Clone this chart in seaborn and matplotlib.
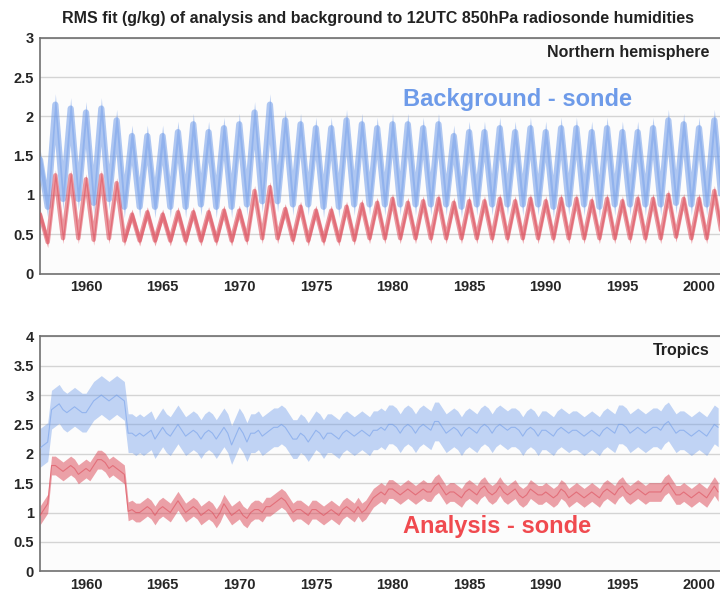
import numpy as np
import matplotlib
matplotlib.use("Agg")
import matplotlib.pyplot as plt
from matplotlib.ticker import MultipleLocator, FuncFormatter
import seaborn as sns

# ---- Northern hemisphere: winter (1 Jan) and summer (1 Jul) values, 1957-2001
nh_years = list(range(1957, 2002))
nh_bg_winter = [1.45, 2.15, 2.1, 2.05, 2.1, 1.95, 1.75, 1.75, 1.75, 1.8,
                1.9, 1.8, 1.85, 1.9, 2.05, 2.15, 1.95, 1.9, 1.85, 1.85,
                1.95, 1.9, 1.85, 1.9, 1.9, 1.85, 1.9, 1.75, 1.8, 1.8,
                1.85, 1.8, 1.85, 1.8, 1.85, 1.85, 1.8, 1.85, 1.8, 1.8,
                1.85, 1.95, 1.9, 1.85, 1.95]
nh_bg_summer = [0.85, 0.95, 0.95, 0.9, 0.95, 0.85, 0.85, 0.85, 0.85, 0.85,
                0.88, 0.85, 0.85, 0.88, 0.92, 0.92, 0.88, 0.88, 0.85, 0.85,
                0.88, 0.88, 0.88, 0.88, 0.88, 0.88, 0.88, 0.85, 0.88, 0.88,
                0.88, 0.88, 0.88, 0.85, 0.88, 0.88, 0.85, 0.88, 0.88, 0.88,
                0.88, 0.9, 0.88, 0.88, 0.88]
nh_an_winter = [0.75, 1.25, 1.25, 1.2, 1.25, 1.15, 0.75, 0.78, 0.75, 0.78,
                0.78, 0.78, 0.8, 0.8, 1.05, 1.1, 0.82, 0.85, 0.8, 0.8,
                0.85, 0.88, 0.9, 0.95, 0.9, 0.92, 0.95, 0.9, 0.92, 0.92,
                0.95, 0.92, 0.95, 0.92, 0.95, 0.95, 0.92, 0.95, 0.92, 0.95,
                0.95, 1.0, 0.95, 0.95, 1.05]
nh_an_summer = [0.4, 0.45, 0.45, 0.43, 0.45, 0.42, 0.42, 0.42, 0.42, 0.42,
                0.42, 0.42, 0.42, 0.43, 0.45, 0.45, 0.43, 0.42, 0.42, 0.42,
                0.43, 0.45, 0.45, 0.45, 0.45, 0.45, 0.45, 0.45, 0.45, 0.45,
                0.45, 0.45, 0.45, 0.45, 0.45, 0.45, 0.45, 0.45, 0.45, 0.45,
                0.45, 0.47, 0.45, 0.45, 0.48]
nh_bg_spread = 0.14
nh_an_spread = 0.07

# ---- Tropics: quarterly values (Jan, Apr, Jul, Oct), 1957-2001 Q2
tr_bg = [2.1, 2.15, 2.2, 2.75,   2.8, 2.85, 2.75, 2.7,    2.75, 2.8, 2.75, 2.7,
         2.7, 2.8, 2.9, 2.95,    3.0, 2.95, 2.9, 2.95,    3.0, 2.95, 2.9, 2.35,
         2.35, 2.3, 2.35, 2.3,   2.35, 2.4, 2.25, 2.35,   2.45, 2.35, 2.3, 2.4,
         2.5, 2.4, 2.3, 2.35,    2.4, 2.35, 2.25, 2.35,   2.4, 2.35, 2.25, 2.35,
         2.45, 2.35, 2.15, 2.3,  2.45, 2.35, 2.2, 2.35,   2.35, 2.4, 2.3, 2.35,
         2.4, 2.45, 2.45, 2.5,   2.45, 2.35, 2.25, 2.25,  2.35, 2.3, 2.2, 2.3,
         2.4, 2.35, 2.25, 2.35,  2.35, 2.3, 2.25, 2.35,   2.4, 2.35, 2.3, 2.35,
         2.4, 2.35, 2.3, 2.4,    2.4, 2.45, 2.4, 2.5,     2.5, 2.45, 2.35, 2.45,
         2.5, 2.45, 2.35, 2.45,  2.5, 2.45, 2.4, 2.55,    2.55, 2.45, 2.35, 2.4,
         2.45, 2.4, 2.3, 2.4,    2.45, 2.4, 2.35, 2.45,   2.5, 2.45, 2.35, 2.45,
         2.5, 2.45, 2.4, 2.45,   2.45, 2.4, 2.3, 2.4,     2.45, 2.4, 2.3, 2.4,
         2.4, 2.35, 2.3, 2.4,    2.45, 2.4, 2.35, 2.4,    2.4, 2.35, 2.3, 2.35,
         2.4, 2.35, 2.3, 2.4,    2.45, 2.4, 2.35, 2.5,    2.5, 2.45, 2.35, 2.4,
         2.45, 2.4, 2.35, 2.4,   2.45, 2.45, 2.4, 2.5,    2.55, 2.45, 2.35, 2.4,
         2.4, 2.35, 2.3, 2.35,   2.4, 2.35, 2.3, 2.4,     2.5, 2.45]
tr_an = [0.95, 1.05, 1.15, 1.8,  1.8, 1.75, 1.7, 1.75,    1.8, 1.75, 1.65, 1.7,
         1.75, 1.7, 1.8, 1.9,    1.9, 1.85, 1.75, 1.8,    1.75, 1.7, 1.65, 1.02,
         1.05, 1.0, 1.0, 1.05,   1.1, 1.05, 0.95, 1.05,   1.1, 1.05, 1.0, 1.1,
         1.2, 1.1, 1.0, 1.05,    1.1, 1.05, 0.95, 1.0,    1.05, 1.0, 0.9, 1.0,
         1.15, 1.05, 0.95, 1.0,  1.05, 0.95, 0.9, 1.0,    1.05, 1.05, 1.0, 1.1,
         1.1, 1.15, 1.2, 1.25,   1.2, 1.1, 1.0, 1.05,     1.05, 1.0, 0.95, 1.05,
         1.05, 1.0, 0.95, 1.0,   1.05, 1.0, 0.95, 1.05,   1.1, 1.05, 1.0, 1.1,
         1.0, 1.05, 1.15, 1.25,  1.3, 1.35, 1.3, 1.4,     1.4, 1.35, 1.3, 1.35,
         1.4, 1.35, 1.3, 1.35,   1.4, 1.35, 1.35, 1.45,   1.5, 1.4, 1.3, 1.35,
         1.35, 1.3, 1.25, 1.35,  1.4, 1.35, 1.3, 1.4,     1.45, 1.35, 1.3, 1.35,
         1.45, 1.35, 1.3, 1.35,  1.4, 1.3, 1.25, 1.3,     1.4, 1.35, 1.3, 1.3,
         1.35, 1.3, 1.25, 1.3,   1.4, 1.35, 1.25, 1.3,    1.35, 1.3, 1.25, 1.3,
         1.35, 1.3, 1.25, 1.35,  1.4, 1.35, 1.3, 1.4,     1.45, 1.35, 1.3, 1.35,
         1.4, 1.35, 1.3, 1.35,   1.35, 1.35, 1.35, 1.45,  1.5, 1.4, 1.3, 1.3,
         1.35, 1.3, 1.25, 1.3,   1.35, 1.3, 1.25, 1.35,   1.45, 1.35]
tr_bg_spread = 0.33
tr_an_spread = 0.16

title = "RMS fit (g/kg) of analysis and background to 12UTC 850hPa radiosonde humidities"
blue = "#6e9be9"
red = "#dc4654"

# time axes
nh_dates = np.ravel([[y, y + 0.5] for y in nh_years])
nh_bg = np.ravel(list(zip(nh_bg_winter, nh_bg_summer)))
nh_an = np.ravel(list(zip(nh_an_winter, nh_an_summer)))
tr_dates = 1957 + np.arange(len(tr_bg)) * 0.25
tr_bg = np.array(tr_bg)
tr_an = np.array(tr_an)

sns.set_style("white")
plt.rcParams["font.family"] = ["Liberation Sans", "DejaVu Sans"]

fig = plt.figure(figsize=(7.2, 5.92), dpi=100)
ax1 = fig.add_axes([0.0556, 0.538, 0.9444, 0.398])
ax2 = fig.add_axes([0.0556, 0.035, 0.9444, 0.397])


def draw_band(ax, x, y, spread, color, lw, alpha):
    ax.fill_between(x, y - spread, y + spread, color=color, alpha=alpha, lw=0, zorder=2)
    sns.lineplot(x=x, y=y, ax=ax, color=color, lw=lw, alpha=0.55, zorder=3)


draw_band(ax1, nh_dates, nh_bg, nh_bg_spread, blue, 4.5, 0.45)
draw_band(ax1, nh_dates, nh_an, nh_an_spread, red, 3.2, 0.5)
draw_band(ax2, tr_dates, tr_bg, tr_bg_spread, blue, 0.8, 0.42)
draw_band(ax2, tr_dates, tr_an, tr_an_spread, red, 0.8, 0.5)

for ax, ymax in [(ax1, 3), (ax2, 4)]:
    ax.set_xlim(1957.0, 2001.37)
    ax.set_ylim(0, ymax)
    ax.xaxis.set_major_locator(MultipleLocator(5))
    ax.xaxis.set_minor_locator(MultipleLocator(1))
    ax.yaxis.set_major_locator(MultipleLocator(0.5))
    ax.yaxis.set_major_formatter(FuncFormatter(lambda v, p: f"{v:g}"))
    ax.xaxis.set_major_formatter(FuncFormatter(lambda v, p: f"{int(v)}"))
    ax.grid(axis="y", color="#d4d4d4", lw=1.0, zorder=0)
    ax.set_axisbelow(True)
    ax.set_facecolor("#fcfcfc")
    for s in ["left", "bottom", "top"]:
        ax.spines[s].set_color("#707070")
        ax.spines[s].set_linewidth(1.2)
    ax.spines["right"].set_visible(False)
    ax.tick_params(axis="both", which="major", direction="out", length=3,
                   width=1, color="#707070", labelsize=10.5, pad=1.5)
    ax.tick_params(axis="x", which="minor", direction="out", length=2.5,
                   width=1, color="#909090")
    for lab in ax.get_xticklabels() + ax.get_yticklabels():
        lab.set_fontweight("bold")
    ax.set_xlabel("")
    ax.set_ylabel("")

ax1.text(0.985, 0.94, "Northern hemisphere", transform=ax1.transAxes,
         ha="right", va="center", fontsize=11.5, fontweight="bold", color="#222222")
ax2.text(0.985, 0.94, "Tropics", transform=ax2.transAxes,
         ha="right", va="center", fontsize=11.5, fontweight="bold", color="#222222")

ax1.text(1980.7, 2.21, "Background - sonde", ha="left", va="center",
         fontsize=17, fontweight="bold", color=blue, zorder=5)
ax2.text(1980.7, 0.76, "Analysis - sonde", ha="left", va="center",
         fontsize=17, fontweight="bold", color="#f04a4f", zorder=5)

fig.text(0.525, 0.969, title, ha="center", va="center", fontsize=11.5,
         fontweight="bold", color="#222222")

fig.savefig("out.png", dpi=100)
